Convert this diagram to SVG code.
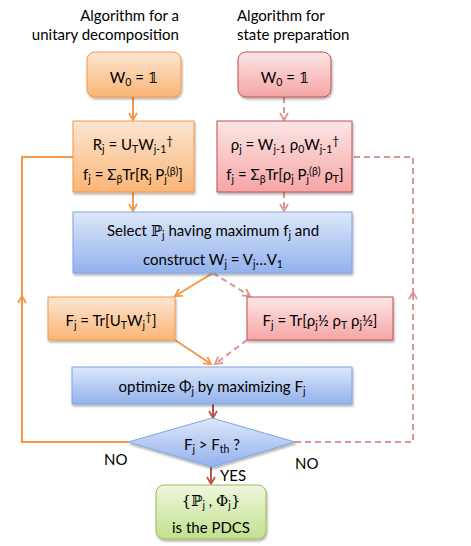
<svg xmlns="http://www.w3.org/2000/svg" width="471" height="546" viewBox="0 0 471 546">
<style>
text{font-family:"Lato","Liberation Sans",sans-serif;font-size:15px;fill:#000}
.c{text-anchor:middle}
.s{font-size:10.5px}
.m{font-family:"DejaVu Serif","Liberation Serif",serif}
.d{font-size:12px}
.or{fill:none;stroke:#f79646;stroke-width:2}
.pk{fill:none;stroke:#d99694;stroke-width:2;stroke-dasharray:6 4}
.rd{fill:none;stroke:#c0504d;stroke-width:2}
</style>
<defs>
<linearGradient id="go" x1="0" y1="0" x2="0" y2="1"><stop offset="0" stop-color="#fde6d2"/><stop offset="1" stop-color="#fab576"/></linearGradient>
<linearGradient id="gp" x1="0" y1="0" x2="0" y2="1"><stop offset="0" stop-color="#fde6e6"/><stop offset="1" stop-color="#f5a5a5"/></linearGradient>
<linearGradient id="gb" x1="0" y1="0" x2="0" y2="1"><stop offset="0" stop-color="#dde8fb"/><stop offset="1" stop-color="#92b1ec"/></linearGradient>
<linearGradient id="gg" x1="0" y1="0" x2="0" y2="1"><stop offset="0" stop-color="#eef7df"/><stop offset="1" stop-color="#c2e08c"/></linearGradient>
<filter id="sh" x="-10%" y="-10%" width="120%" height="130%"><feDropShadow dx="1" dy="2" stdDeviation="1.2" flood-color="#000" flood-opacity="0.3"/></filter>
<marker id="ao" markerWidth="10" markerHeight="10" refX="8" refY="5" orient="auto" markerUnits="userSpaceOnUse"><path d="M1,1 L8,5 L1,9" fill="none" stroke="#f79646" stroke-width="1.8"/></marker>
<marker id="ap" markerWidth="10" markerHeight="10" refX="8" refY="5" orient="auto" markerUnits="userSpaceOnUse"><path d="M1,1 L8,5 L1,9" fill="none" stroke="#d99694" stroke-width="1.8"/></marker>
<marker id="ar" markerWidth="10" markerHeight="10" refX="8" refY="5" orient="auto" markerUnits="userSpaceOnUse"><path d="M1,1 L8,5 L1,9" fill="none" stroke="#c0504d" stroke-width="1.8"/></marker>
</defs>
<rect width="471" height="546" fill="#fff"/>

<g id="titles">
<text x="179" y="21" text-anchor="end">Algorithm for a</text>
<text x="179" y="40" text-anchor="end">unitary decomposition</text>
<text x="237" y="21">Algorithm for</text>
<text x="237" y="40">state preparation</text>
</g>

<g id="connectors">
<path class="or" d="M133,97 V120" marker-end="url(#ao)"/>
<path class="pk" d="M284,97 V120" marker-end="url(#ap)"/>
<path class="or" d="M133,192 V211" marker-end="url(#ao)"/>
<path class="pk" d="M284,192 V211" marker-end="url(#ap)"/>
<path class="or" d="M213,273 L175,296" marker-end="url(#ao)"/>
<path class="pk" d="M213,273 L250,296" marker-end="url(#ap)"/>
<path class="or" d="M175,340 L211,364" marker-end="url(#ao)"/>
<path class="pk" d="M247,340 L215,364" marker-end="url(#ap)"/>
<path class="rd" d="M213,404 V418" marker-end="url(#ar)"/>
<path class="rd" d="M211,467 V484" marker-end="url(#ar)"/>
<path class="or" d="M128,442 H22 V296" marker-end="url(#ao)"/>
<path class="or" d="M22,298 V157 H73"/>
<path class="pk" d="M295,442 H413 V292" marker-end="url(#ap)"/>
<path class="pk" d="M413,294 V157 H352"/>
</g>

<g id="w0-left">
<rect x="87" y="52" width="94" height="45" rx="8" fill="url(#go)" stroke="#f79646" filter="url(#sh)"/>
<text x="134" y="83" class="c">W<tspan class="s" dy="3">0</tspan><tspan dy="-3"> = </tspan><tspan class="m">𝟙</tspan></text>
</g>
<g id="w0-right">
<rect x="238" y="52" width="93" height="45" rx="8" fill="url(#gp)" stroke="#c0504d" filter="url(#sh)"/>
<text x="285" y="83" class="c">W<tspan class="s" dy="3">0</tspan><tspan dy="-3"> = </tspan><tspan class="m">𝟙</tspan></text>
</g>

<g id="r-box">
<rect x="73" y="121" width="121" height="71" fill="url(#go)" stroke="#f79646" filter="url(#sh)"/>
<text x="133" y="150" class="c">R<tspan class="s" dy="3">j</tspan><tspan dy="-3"> = U</tspan><tspan class="s" dy="3">T</tspan><tspan dy="-3">W</tspan><tspan class="s" dy="3">j-1</tspan><tspan class="d" dy="-8">†</tspan></text>
<text x="133" y="180" class="c">f<tspan class="s" dy="3">j</tspan><tspan dy="-3"> = Σ</tspan><tspan class="s" dy="3">β</tspan><tspan dy="-3">Tr[R</tspan><tspan class="s" dy="3">j</tspan><tspan dy="-3"> P</tspan><tspan class="s" dy="3">j</tspan><tspan class="s" dy="-8">(β)</tspan><tspan dy="5">]</tspan></text>
</g>
<g id="rho-box">
<rect x="217" y="121" width="135" height="71" fill="url(#gp)" stroke="#c0504d" filter="url(#sh)"/>
<text x="285" y="150" class="c">ρ<tspan class="s" dy="3">j</tspan><tspan dy="-3">  = W</tspan><tspan class="s" dy="3">j-1</tspan><tspan dy="-3"> ρ</tspan><tspan class="s" dy="3">0</tspan><tspan dy="-3">W</tspan><tspan class="s" dy="3">j-1</tspan><tspan class="d" dy="-8">†</tspan></text>
<text x="285" y="180" class="c">f<tspan class="s" dy="3">j</tspan><tspan dy="-3"> = Σ</tspan><tspan class="s" dy="3">β</tspan><tspan dy="-3">Tr[ρ</tspan><tspan class="s" dy="3">j</tspan><tspan dy="-3"> P</tspan><tspan class="s" dy="3">j</tspan><tspan class="s" dy="-8">(β)</tspan><tspan dy="5"> ρ</tspan><tspan class="s" dy="3">T</tspan><tspan dy="-3">]</tspan></text>
</g>

<g id="select-box">
<rect x="73" y="212" width="279" height="61" fill="url(#gb)" stroke="#7ea6e0" filter="url(#sh)"/>
<text x="213" y="236" class="c">Select <tspan class="m">ℙ</tspan><tspan class="s" dy="3">j</tspan><tspan dy="-3"> having maximum f</tspan><tspan class="s" dy="3">j</tspan><tspan dy="-3">  and</tspan></text>
<text x="213" y="265" class="c">construct W<tspan class="s" dy="3">j</tspan><tspan dy="-3">  = V</tspan><tspan class="s" dy="3">j</tspan><tspan dy="-3">…V</tspan><tspan class="s" dy="3">1</tspan></text>
</g>

<g id="f-left">
<rect x="48" y="297" width="127" height="43" fill="url(#go)" stroke="#f79646" filter="url(#sh)"/>
<text x="111" y="326" class="c">F<tspan class="s" dy="3">j</tspan><tspan dy="-3"> = Tr[U</tspan><tspan class="s" dy="3">T</tspan><tspan dy="-3">W</tspan><tspan class="s" dy="3">j</tspan><tspan class="d" dy="-8">†</tspan><tspan dy="5">]</tspan></text>
</g>
<g id="f-right">
<rect x="247" y="297" width="146" height="43" fill="url(#gp)" stroke="#c0504d" filter="url(#sh)"/>
<text x="320" y="326" class="c">F<tspan class="s" dy="3">j</tspan><tspan dy="-3"> = Tr[ρ</tspan><tspan class="s" dy="3">j</tspan><tspan dy="-3">½ ρ</tspan><tspan class="s" dy="3">T</tspan><tspan dy="-3"> ρ</tspan><tspan class="s" dy="3">j</tspan><tspan dy="-3">½]</tspan></text>
</g>

<g id="optimize-box">
<rect x="72" y="367" width="280" height="37" fill="url(#gb)" stroke="#7ea6e0" filter="url(#sh)"/>
<text x="212" y="392" class="c">optimize Φ<tspan class="s" dy="3">j</tspan><tspan dy="-3"> by maximizing F</tspan><tspan class="s" dy="3">j</tspan></text>
</g>

<g id="decision">
<path d="M212,418 L295,442 L212,467 L128,442 Z" fill="url(#gb)" stroke="#7ea6e0" filter="url(#sh)"/>
<text x="212" y="450" class="c">F<tspan class="s" dy="3">j</tspan><tspan dy="-3">  &gt; F</tspan><tspan class="s" dy="3">th</tspan><tspan dy="-3"> ?</tspan></text>
</g>

<g id="labels">
<text x="104" y="465">NO</text>
<text x="295" y="469">NO</text>
<text x="220" y="481">YES</text>
</g>

<g id="result">
<rect x="156" y="485" width="110" height="54" rx="8" fill="url(#gg)" stroke="#9bbb59" filter="url(#sh)"/>
<text x="211" y="506" class="c"><tspan class="m">{ℙ</tspan><tspan class="s" dy="3">j</tspan><tspan dy="-3"> , </tspan><tspan class="m">Φ</tspan><tspan class="s" dy="3">j</tspan><tspan class="m" dy="-3">}</tspan></text>
<text x="211" y="533" class="c">is the PDCS</text>
</g>
</svg>
